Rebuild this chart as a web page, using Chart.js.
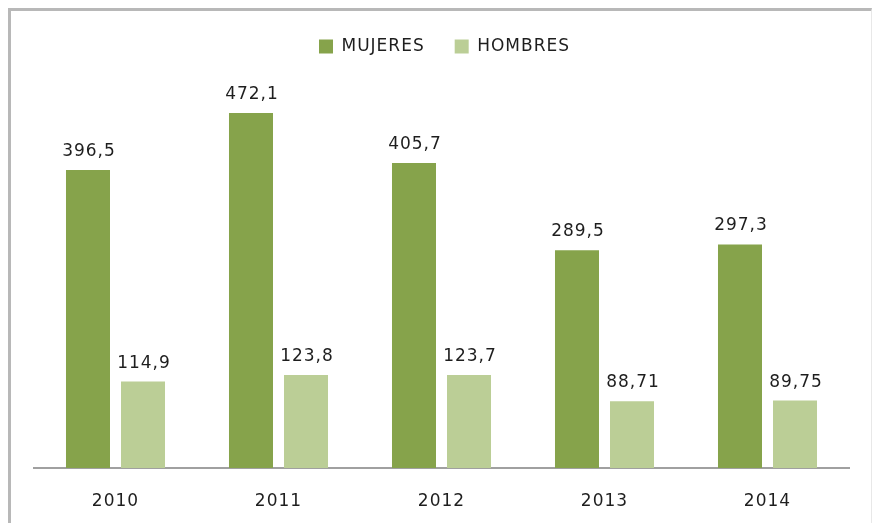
<!DOCTYPE html>
<html>
<head>
<meta charset="utf-8">
<script src="https://cdn.jsdelivr.net/npm/chart.js@4"></script>
<style>
  body { margin: 0; background: #fff; overflow: hidden; }
  .frame {
    position: absolute; left: 8px; top: 8px; width: 860px; height: 600px;
    border-top: 3px solid #b8b8b8; border-left: 3px solid #b8b8b8; border-right: 1px solid #e8e8e8;
  }
  canvas { position: absolute; left: 0; top: 0; }
</style>
</head>
<body>
<div class="frame"></div>
<canvas id="chart" width="873" height="523"></canvas>
<script>
const years = ["2010", "2011", "2012", "2013", "2014"];
const mujeres = [396.5, 472.1, 405.7, 289.5, 297.3];
const hombres = [114.9, 123.8, 123.7, 88.71, 89.75];

const FONT = "'DejaVu Sans', Verdana, sans-serif";

// canvas resets its state on resize, so set the spacing before layout and draw
const spacing = {
  id: 'spacing',
  beforeUpdate(chart) { chart.ctx.letterSpacing = '1px'; },
  beforeDraw(chart) { chart.ctx.letterSpacing = '1px'; },
  afterLayout(chart) {
    // small nudge of the legend to the right, like the original
    chart.legend.left += 3;
    chart.legend.right += 3;
  }
};

// value labels above each bar, with a comma as decimal mark
const barLabels = {
  id: 'barLabels',
  afterDatasetsDraw(chart) {
    const ctx = chart.ctx;
    ctx.save();
    ctx.letterSpacing = '1px';
    ctx.font = '17px ' + FONT;
    ctx.fillStyle = '#1e1e1e';
    ctx.textAlign = 'center';
    ctx.textBaseline = 'alphabetic';
    chart.data.datasets.forEach((ds, i) => {
      chart.getDatasetMeta(i).data.forEach((bar, j) => {
        const txt = String(ds.data[j]).replace('.', ',');
        ctx.fillText(txt, bar.x + 1, bar.y - 14);
      });
    });
    ctx.restore();
  }
};

new Chart(document.getElementById('chart'), {
  type: 'bar',
  data: {
    labels: years,
    datasets: [
      { label: 'MUJERES', data: mujeres, backgroundColor: '#86a34b' },
      { label: 'HOMBRES', data: hombres, backgroundColor: '#bbce96' }
    ]
  },
  options: {
    responsive: false,
    animation: false,
    categoryPercentage: 0.675,
    barPercentage: 0.8,
    layout: { padding: { left: 34, right: 24, top: 8, bottom: 0 } },
    plugins: {
      legend: {
        position: 'top',
        labels: {
          boxWidth: 14,
          boxHeight: 14,
          padding: 30,
          color: '#1e1e1e',
          font: { family: FONT, size: 17 }
        }
      },
      tooltip: { enabled: false }
    },
    scales: {
      x: {
        grid: { display: false, drawTicks: false },
        border: { display: true, color: '#a0a0a0', width: 2 },
        ticks: { color: '#1e1e1e', padding: 23, font: { family: FONT, size: 17 } },
        afterFit(scale) { scale.height = 55; }
      },
      y: {
        display: false,
        min: 0,
        max: 536
      }
    }
  },
  plugins: [spacing, barLabels]
});
</script>
</body>
</html>
